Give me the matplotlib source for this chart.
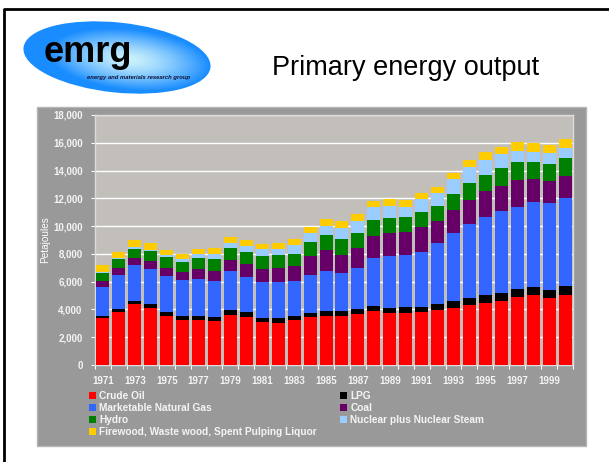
import matplotlib
matplotlib.use("Agg")
import matplotlib.pyplot as plt
import numpy as np
from matplotlib import font_manager
from matplotlib.patches import Ellipse, Rectangle, Patch

# Primary energy output, Petajoules, 1971-2000
years = list(range(1971, 2001))
crude_oil = [3360, 3790, 4420, 4130, 3530, 3240, 3240, 3190, 3600, 3430,
             3120, 3050, 3260, 3460, 3530, 3530, 3700, 3910, 3770, 3770,
             3790, 3960, 4100, 4320, 4490, 4610, 4870, 5020, 4820, 5020]
lpg = [170, 240, 190, 240, 290, 260, 260, 270, 340, 360,
       290, 310, 270, 310, 330, 330, 360, 360, 360, 380,
       410, 430, 510, 500, 570, 570, 600, 620, 600, 670]
natural_gas = [2110, 2470, 2570, 2540, 2560, 2600, 2720, 2610, 2800, 2550,
               2570, 2620, 2520, 2710, 2930, 2740, 2950, 3430, 3690, 3770,
               3960, 4390, 4920, 5330, 5620, 5880, 5930, 6120, 6220, 6360]
coal = [410, 460, 520, 550, 630, 620, 690, 700, 800, 930,
        930, 1030, 1080, 1390, 1490, 1340, 1410, 1610, 1680, 1660,
        1750, 1590, 1650, 1750, 1820, 1830, 1900, 1660, 1580, 1530]
hydro = [600, 670, 680, 750, 790, 720, 790, 890, 860, 890,
         960, 890, 890, 1010, 1060, 1130, 1110, 1130, 1060, 1050,
         1110, 1100, 1110, 1180, 1200, 1270, 1290, 1170, 1230, 1300]
nuclear = [70, 70, 120, 70, 100, 170, 270, 360, 410, 430,
           480, 450, 600, 600, 670, 790, 840, 910, 910, 770,
           910, 890, 1080, 1150, 1080, 1010, 840, 770, 790, 770]
firewood = [480, 440, 500, 530, 360, 410, 360, 380, 410, 410,
            390, 430, 430, 480, 500, 480, 530, 480, 460, 480,
            480, 460, 450, 550, 560, 530, 600, 600, 600, 620]

series = [
    ("Crude Oil", crude_oil, "#ff0000"),
    ("LPG", lpg, "#000000"),
    ("Marketable Natural Gas", natural_gas, "#3366ff"),
    ("Coal", coal, "#660066"),
    ("Hydro", hydro, "#008000"),
    ("Nuclear plus Nuclear Steam", nuclear, "#99ccff"),
    ("Firewood, Waste wood, Spent Pulping Liquor", firewood, "#ffcc00"),
]
legend_order = [0, 2, 4, 6, 1, 3, 5]

plt.rcParams['font.family'] = ['Liberation Sans', 'DejaVu Sans']

W, H = 609, 462
fig = plt.figure(figsize=(W / 100, H / 100), dpi=100)
fig.patch.set_facecolor("white")

# slide layer in pixel coords
bg = fig.add_axes([0, 0, 1, 1])
bg.set_xlim(0, W)
bg.set_ylim(H, 0)
bg.axis("off")

# slide border
bg.plot([3.5, 3.5, W + 5], [H + 5, 9, 9], color="black", lw=2, solid_capstyle="butt")

# logo ellipse with gradient
cx, cy, ew, eh, ang = 117, 57.5, 188, 70, 6
ell = Ellipse((cx, cy), ew, eh, angle=ang, facecolor="none", edgecolor="none")
bg.add_patch(ell)
gx, gy = np.meshgrid(np.linspace(15, 220, 300), np.linspace(12, 102, 150))
th = np.deg2rad(ang)
dx, dy = gx - (cx + 12), gy - (cy + 2)
u = dx * np.cos(th) + dy * np.sin(th)
v = -dx * np.sin(th) + dy * np.cos(th)
r = np.sqrt((u / (ew * 0.5)) ** 2 + (v / (eh * 0.5)) ** 2)
t = np.clip(r * 1.15, 0, 1) ** 1.4
light = np.array([0.80, 0.95, 0.99])
dark = np.array([0.10, 0.55, 1.00])
img = light[None, None, :] * (1 - t[..., None]) + dark[None, None, :] * t[..., None]
im = bg.imshow(img, extent=(15, 220, 102, 12), interpolation="bilinear", aspect="auto")
im.set_clip_path(ell)

# narrow bold face for the logo if Liberation Sans Narrow is installed
logo_prop = font_manager.FontProperties(family="Liberation Sans", weight="bold", size=26)
for f in font_manager.fontManager.ttflist:
    if f.name == "Liberation Sans Narrow" and f.weight in ("bold", 700) and f.style == "normal":
        logo_prop = font_manager.FontProperties(fname=f.fname, size=31)
        break
bg.text(44, 62, "emrg", fontproperties=logo_prop, color="black",
        ha="left", va="baseline")
bg.text(139, 77, "energy and materials research group", fontsize=4.2,
        fontweight="bold", style="italic", color="#111133", ha="center", va="center")

bg.text(406, 75, "Primary energy output", fontsize=19.5, color="black",
        ha="center", va="baseline")

# grey chart box
bg.add_patch(Rectangle((37, 107), 549, 339, facecolor="#999999",
                       edgecolor="#b5b5b5", lw=1))

# chart
ax = fig.add_axes([95 / W, 1 - 365 / H, (573 - 95) / W, (365 - 115) / H])
ax.set_facecolor("#c2bfbb")
x = np.arange(len(years))
bottom = np.zeros(len(years))
handles = []
for name, vals, col in series:
    ax.bar(x, vals, width=0.82, bottom=bottom, color=col, edgecolor="none", zorder=3)
    bottom += np.array(vals)
    handles.append(Patch(facecolor=col, edgecolor="none", label=name))

ax.set_xlim(-0.5, len(years) - 0.5)
ax.set_ylim(0, 18000)
ax.set_yticks(np.arange(0, 18001, 2000))
ax.set_yticklabels([f"{v:,}" for v in range(0, 18001, 2000)])
ax.yaxis.grid(True, color="white", lw=1, zorder=0)
ax.set_axisbelow(True)
ax.set_xticks(x[::2])
ax.set_xticklabels([str(y) for y in years[::2]])
ax.set_xticks(np.arange(-0.5, len(years), 1), minor=True)
ax.tick_params(axis="x", which="major", length=0, pad=8, colors="#f4f4f4", labelsize=7)
ax.tick_params(axis="x", which="minor", length=3, color="white", width=0.8)
ax.tick_params(axis="y", length=3, color="white", width=0.8, pad=6,
               colors="#f4f4f4", labelsize=7)
for lab in ax.get_xticklabels() + ax.get_yticklabels():
    lab.set_fontweight("bold")
for s in ax.spines.values():
    s.set_color("#dcdcdc")
    s.set_linewidth(1)
ax.set_ylabel("Petajoules", color="white", fontsize=7.2, labelpad=2)

leg = fig.legend([handles[i] for i in legend_order], [series[i][0] for i in legend_order],
                 loc="upper left", bbox_to_anchor=(89 / W, 1 - 391 / H), ncol=2,
                 frameon=False, borderaxespad=0, borderpad=0,
                 handlelength=0.7, handleheight=0.7, handletextpad=0.3,
                 columnspacing=2.3, labelspacing=0.2,
                 prop={"size": 7.3, "weight": "bold"})
for txt in leg.get_texts():
    txt.set_color("#f4f4f4")

fig.savefig("out.png", dpi=100, facecolor="white")
